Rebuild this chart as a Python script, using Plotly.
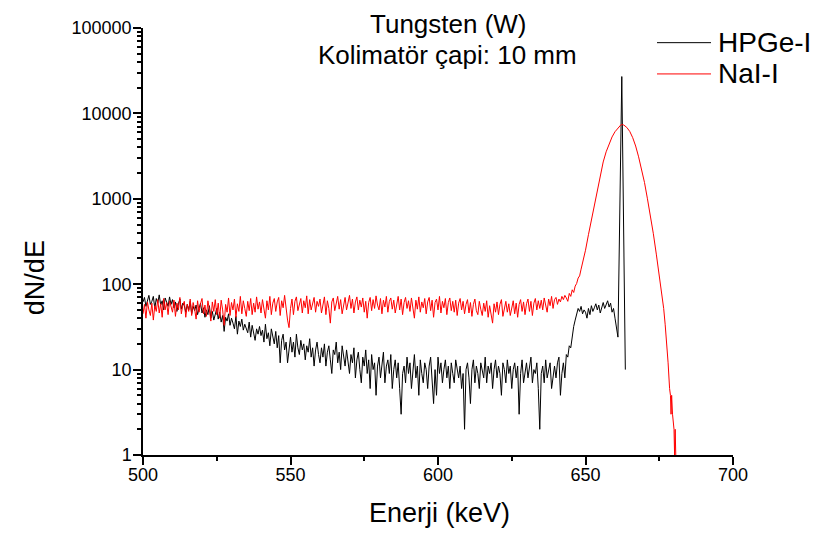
import plotly.graph_objects as go

# Spectrum channels: noisy continuum sampled every 0.5 keV from 500 keV
E_START = 500.0
E_STEP = 0.5

# HPGe-I continuum, 500 .. 642 keV
hpge_continuum = [
    62, 70, 55, 66, 74, 58, 63, 72, 52, 68,
    60, 75, 57, 64, 50, 69, 61, 55, 71, 58,
    66, 53, 62, 48, 59, 67, 51, 60, 56, 47,
    58, 50, 63, 45, 55, 49, 57, 44, 52, 60,
    46, 53, 41, 50, 44, 56, 40, 48, 38, 45,
    52, 39, 47, 36, 43, 28, 41, 37, 45, 33,
    40, 35, 30, 42, 26, 37, 32, 39, 29, 34,
    31, 27, 36, 24, 33, 28, 22, 30, 26, 32,
    25, 29, 21, 34, 23, 27, 19, 30, 24, 20,
    28, 18, 25, 12, 22, 26, 17, 21, 12, 19,
    24, 16, 21, 14, 26, 18, 15, 22, 17, 20,
    13, 19, 16, 23, 14, 18, 11, 17, 21, 15,
    12, 18, 14, 20, 11, 16, 19, 13, 9, 17,
    15, 21, 12, 16, 10, 19, 14, 11, 17, 13,
    9, 15, 12, 18, 8, 13, 16, 10, 7, 14,
    11, 17, 9, 13, 6, 15, 10, 12, 5, 11,
    14, 8, 12, 16, 7, 11, 13, 9, 15, 6,
    10, 13, 8, 12, 6, 3, 9, 11, 7, 14,
    9, 12, 6, 10, 15, 8, 11, 5, 13, 9,
    7, 12, 10, 6, 11, 14, 8, 4, 10, 5,
    14, 9, 12, 7, 10, 13, 8, 11, 6, 12,
    9, 7, 13, 10, 8, 11, 6, 9, 2, 10,
    12, 8, 4, 10, 13, 7, 11, 9, 6, 12,
    10, 8, 14, 7, 11, 9, 12, 6, 10, 13,
    8, 11, 9, 5, 12, 10, 7, 13, 9, 11,
    6, 10, 12, 8, 11, 3, 9, 13, 7, 10,
    12, 8, 11, 14, 7, 10, 9, 12, 6, 2,
    9, 11, 7, 13, 8, 10, 12, 6, 9, 11,
    8, 12, 14, 5, 9,
]

# HPGe-I Compton edge and photopeak
hpge_peak_energy = [
    642.5, 643, 643.5, 644, 644.5, 645, 645.5, 646, 646.5, 647,
    647.5, 648, 648.5, 649, 649.5, 650, 650.5, 651, 651.5, 652,
    652.5, 653, 653.5, 654, 654.5, 655, 655.5, 656, 656.5, 657,
    657.5, 658, 658.5, 659, 659.5, 660, 660.5, 661, 662.3, 663.5,
]
hpge_peak_counts = [
    12, 8, 15, 14, 19, 18, 25, 32, 38, 46,
    52, 48, 55, 45, 50, 47, 40, 52, 44, 56,
    48, 53, 59, 50, 57, 46, 55, 61, 52, 58,
    64, 54, 60, 47, 52, 40, 30, 24, 27000, 10,
]

# NaI-I continuum, 500 .. 640 keV
nai_continuum = [
    45, 58, 40, 62, 50, 43, 60, 38, 56, 48,
    66, 46, 59, 41, 68, 50, 61, 44, 64, 52,
    47, 65, 42, 60, 50, 70, 45, 57, 63, 41,
    58, 48, 67, 43, 61, 51, 39, 64, 47, 59,
    68, 45, 57, 42, 64, 51, 37, 62, 48, 66,
    44, 60, 40, 65, 50, 33, 58, 47, 69, 43,
    61, 50, 67, 41, 59, 48, 72, 45, 64, 52,
    42, 63, 49, 68, 44, 60, 47, 71, 51, 62,
    46, 66, 53, 40, 64, 50, 72, 44, 60, 68,
    48, 62, 70, 43, 64, 53, 74, 49, 38, 31,
    52, 67, 44, 63, 71, 49, 60, 68, 46, 64,
    53, 73, 45, 66, 50, 62, 70, 47, 63, 55,
    67, 46, 60, 71, 44, 64, 52, 35, 62, 69,
    49, 63, 72, 51, 66, 45, 60, 70, 50, 64,
    74, 52, 67, 46, 62, 71, 50, 65, 54, 69,
    47, 63, 40, 61, 70, 49, 66, 52, 73, 57,
    50, 68, 45, 65, 54, 72, 47, 63, 69, 51,
    65, 46, 62, 72, 50, 67, 44, 61, 70, 52,
    64, 48, 69, 54, 40, 65, 51, 71, 47, 62,
    53, 68, 45, 62, 70, 49, 65, 41, 61, 67,
    50, 72, 46, 63, 53, 68, 44, 61, 69, 49,
    63, 47, 65, 43, 60, 68, 50, 63, 45, 58,
    66, 46, 61, 42, 58, 67, 49, 44, 63, 51,
    43, 60, 48, 64, 41, 56, 46, 35, 59, 47,
    62, 44, 58, 66, 42, 55, 63, 47, 59, 43,
    56, 64, 45, 60, 41, 58, 66, 48, 62, 44,
    59, 67, 48, 63, 43, 60, 68, 50, 64, 52,
    65, 50, 69, 55, 47, 67, 56, 72, 52, 66,
    70,
]

# NaI-I photopeak
nai_peak_energy = [
    640.5, 641, 641.5, 642, 642.5, 643, 643.5, 644, 644.5, 645,
    645.5, 646, 646.5, 647, 647.5, 648, 648.5, 649, 649.5, 650,
    651, 652, 653, 654, 655, 656, 657, 658, 659, 660,
    661, 662, 662.5, 663, 664, 665, 666, 667, 668, 669,
    670, 671, 672, 673, 674, 675, 676, 676.5, 677, 677.5,
    678, 678.5, 678.8, 679, 679.2, 679.5, 679.8, 680, 680.2, 680.4,
    680.6,
]
nai_peak_counts = [
    58, 67, 62, 72, 66, 74, 69, 63, 78, 72,
    86, 80, 95, 102, 118, 125, 150, 175, 205, 250,
    380, 560, 880, 1300, 1900, 2700, 3550, 4450, 5300, 6100,
    6800, 7350, 7400, 7300, 6850, 6150, 5200, 4150, 3100, 2200,
    1550, 1000, 640, 390, 225, 130, 72, 52, 34, 22,
    12, 6, 5, 3, 5, 3, 2, 2, 1, 2,
    1,
]

y_tick_values = [1, 10, 100, 1000, 10000, 100000]
y_tick_labels = ["1", "10", "100", "1000", "10000", "100000"]

hpge_energy = [E_START + E_STEP * i for i in range(len(hpge_continuum))] + hpge_peak_energy
hpge_counts = hpge_continuum + hpge_peak_counts
nai_energy = [E_START + E_STEP * i for i in range(len(nai_continuum))] + nai_peak_energy
nai_counts = nai_continuum + nai_peak_counts

FONT = "Arial, Liberation Sans, sans-serif"

# the page puts the figure 8 px in from the top-left corner
OFF = 8
FIG_W, FIG_H = 815, 528
# plot area in page pixels: x 143..733, y 18..455
L, R, T, B = 143 - OFF, 90, 18 - OFF, 81
W, H = FIG_W - L - R, FIG_H - T - B


def px_x(px):
    return (px - OFF - L) / W


def px_y(py):
    return (FIG_H - B - (py - OFF)) / H


fig = go.Figure()
fig.add_trace(go.Scatter(x=hpge_energy, y=hpge_counts, mode="lines", name="HPGe-I",
                         line=dict(color="black", width=1), showlegend=False))
fig.add_trace(go.Scatter(x=nai_energy, y=nai_counts, mode="lines", name="NaI-I",
                         line=dict(color="red", width=1), showlegend=False))

axis_common = dict(showline=True, linecolor="black", linewidth=1.5, ticks="outside",
                   ticklen=8, tickwidth=1.5, tickcolor="black", showgrid=False,
                   zeroline=False, tickfont=dict(family=FONT, size=18, color="black"))

fig.update_xaxes(range=[500, 700], dtick=50, tick0=500, ticklabelstandoff=-5,
                 minor=dict(ticks="outside", ticklen=4, tickcolor="black", dtick=25, showgrid=False),
                 **axis_common)
fig.update_yaxes(type="log", range=[0, 5], tickvals=y_tick_values, ticktext=y_tick_labels,
                 ticklabelstandoff=-2,
                 minor=dict(ticks="outside", ticklen=4, tickcolor="black", dtick="D1", showgrid=False),
                 **axis_common)

# legend drawn by hand so the sample lines match the original length
legend_rows = [("HPGe-I", "black", 33), ("NaI-I", "red", 65)]
shapes = []
annotations = []
for label, color, py in legend_rows:
    shapes.append(dict(type="line", xref="paper", yref="paper", x0=px_x(657), x1=px_x(711),
                       y0=px_y(py), y1=px_y(py), line=dict(color=color, width=1)))
    annotations.append(dict(text=label, xref="paper", yref="paper", x=px_x(716), y=px_y(py),
                            xanchor="left", yanchor="middle", showarrow=False,
                            font=dict(family=FONT, size=28, color="black")))

annotations += [
    dict(text="Tungsten (W)", xref="paper", yref="paper", x=px_x(448), y=px_y(14),
         xanchor="center", yanchor="middle", showarrow=False,
         font=dict(family=FONT, size=26, color="black")),
    dict(text="Kolimatör çapi: 10 mm", xref="paper", yref="paper", x=px_x(447), y=px_y(46),
         xanchor="center", yanchor="middle", showarrow=False,
         font=dict(family=FONT, size=26, color="black")),
    dict(text="Enerji (keV)", xref="paper", yref="paper", x=px_x(440), y=px_y(514),
         xanchor="center", yanchor="middle", showarrow=False,
         font=dict(family=FONT, size=27, color="black")),
    dict(text="dN/dE", xref="paper", yref="paper", x=px_x(35), y=px_y(274),
         xanchor="center", yanchor="middle", showarrow=False, textangle=-90,
         font=dict(family=FONT, size=27, color="black")),
]

fig.update_layout(
    width=FIG_W, height=FIG_H,
    margin=dict(l=L, r=R, t=T, b=B),
    paper_bgcolor="white", plot_bgcolor="white",
    shapes=shapes, annotations=annotations,
    showlegend=False,
)

fig.write_html("out.html")
